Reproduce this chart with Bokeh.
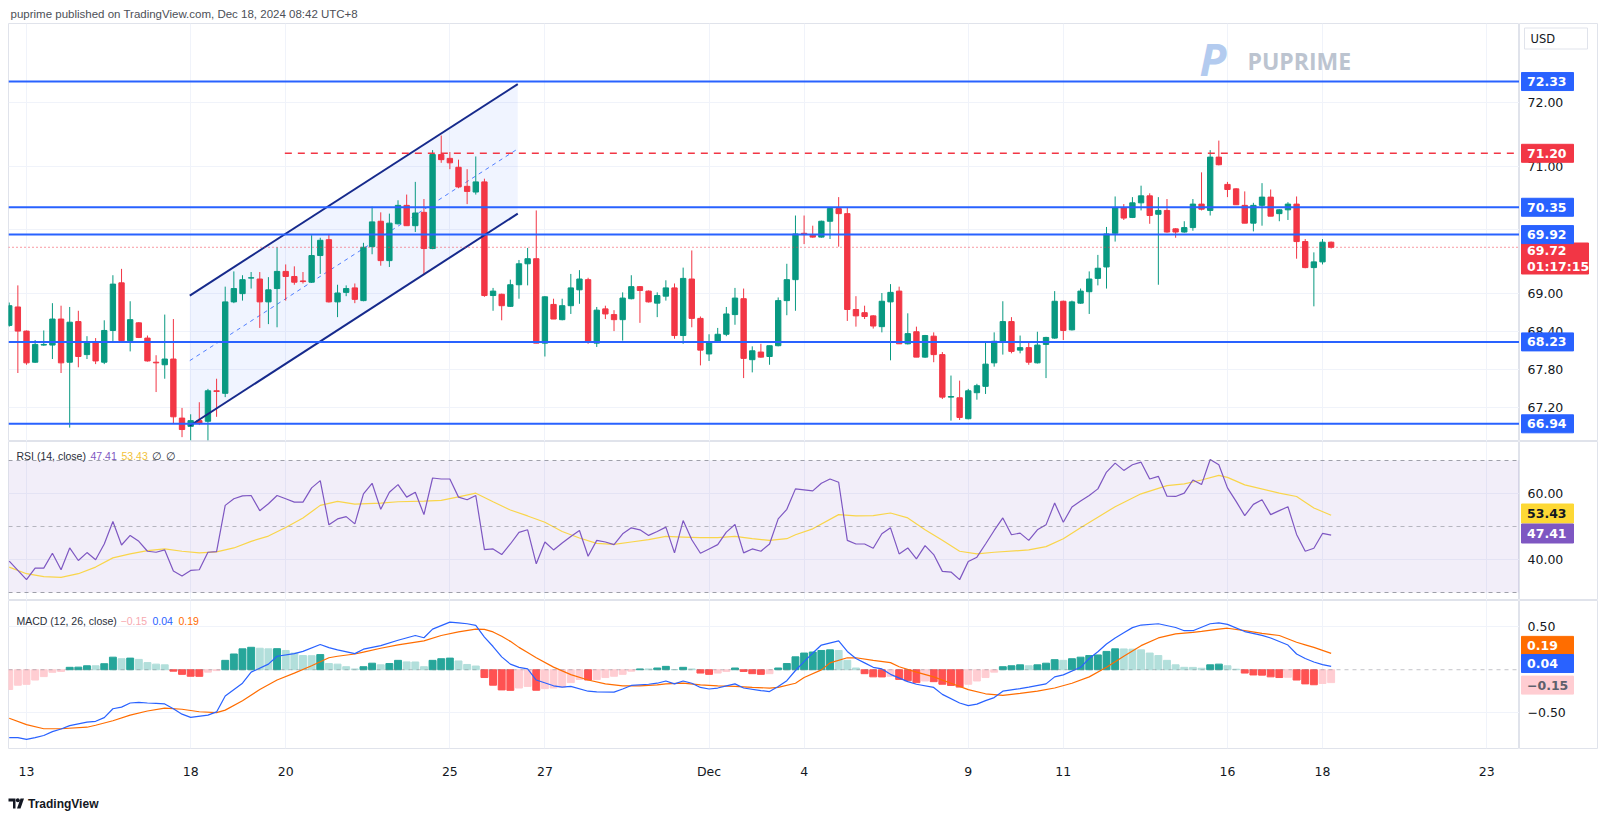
import numpy as np
from bokeh.plotting import figure
from bokeh.layouts import column, row
from bokeh.models import (Range1d, FixedTicker, Span, BoxAnnotation,
                          ColumnDataSource, LinearAxis)
from bokeh.core.properties import value
from bokeh.embed import file_html
from bokeh.resources import INLINE

# ---------------- data (4h candles, USOIL) ----------------
opens = [68.49,68.78,68.40,67.91,68.18,68.18,68.59,67.91,68.55,68.03,
68.23,67.91,68.41,69.16,68.25,68.53,68.29,67.91,67.87,67.96,
67.03,66.90,66.99,66.98,67.46,67.42,68.86,68.99,69.235,69.22,
68.86,69.07,69.34,69.26,69.19,69.17,69.59,69.84,68.86,69.01,
69.08,68.88,69.73,70.13,69.51,70.09,70.38,70.06,70.27,69.70,
71.18,71.12,70.98,70.68,70.59,70.75,68.96,68.98,68.79,69.13,
69.46,69.54,68.21,68.82,68.58,68.80,69.05,69.21,68.21,68.75,
68.66,68.58,68.91,69.10,69.03,68.84,68.95,69.08,68.33,69.22,
68.60,68.04,68.24,68.35,68.66,68.91,67.95,68.07,68.00,68.17,
68.88,69.21,69.94,69.91,69.88,70.13,70.33,70.25,68.74,68.69,
68.64,68.47,68.86,69.03,68.20,68.39,67.99,68.32,68.03,67.36,
67.35,67.02,67.43,67.53,67.90,68.24,68.55,68.10,68.14,67.90,
68.19,68.29,68.87,68.42,68.84,69.02,69.23,69.41,69.94,70.34,
70.19,70.42,70.53,70.24,70.30,70.01,69.96,70.03,70.40,70.30,
71.14,70.71,70.64,70.38,70.10,70.38,70.51,70.25,70.31,70.40,
69.81,69.40,69.49,69.80]
highs = [68.85,69.12,68.41,68.26,68.41,68.84,68.80,68.78,68.72,68.32,
68.29,68.57,69.28,69.38,68.87,68.54,68.33,68.02,68.66,68.59,
67.19,67.09,67.28,67.49,67.65,69.10,69.34,69.28,69.33,69.33,
69.25,69.72,69.45,69.42,69.33,69.91,69.87,69.93,69.13,69.12,
69.15,69.79,70.36,70.27,70.25,70.46,70.55,70.75,70.48,71.25,
71.48,71.22,71.10,70.95,71.15,70.80,69.08,68.99,69.21,69.52,
69.71,70.30,68.95,68.91,68.91,69.30,69.36,69.24,68.78,68.80,
68.73,69.01,69.28,69.11,69.04,69.01,69.20,69.15,69.40,69.67,
68.63,68.35,68.45,68.78,69.08,69.07,68.16,68.20,68.17,68.93,
69.46,70.22,70.22,70.06,70.14,70.34,70.51,70.35,68.95,68.80,
68.65,69.00,69.14,69.10,68.68,68.47,68.34,68.38,68.07,67.70,
67.62,67.49,67.57,68.23,68.38,68.87,68.62,68.33,68.23,68.39,
68.31,69.03,68.88,68.88,69.07,69.34,69.60,70.04,70.52,70.40,
70.51,70.69,70.57,70.51,70.48,70.02,70.13,70.48,70.90,71.25,
71.40,70.75,70.65,70.60,70.42,70.73,70.63,70.32,70.43,70.52,
69.85,69.64,69.85,69.81]
lows = [68.47,67.74,67.87,67.90,68.17,67.96,67.74,66.88,67.83,67.96,
67.88,67.88,68.23,68.23,68.08,68.29,67.92,67.44,67.65,66.94,
66.73,66.68,66.92,66.68,67.05,67.36,68.84,68.88,69.07,68.45,
68.51,68.46,68.88,69.13,69.15,69.16,69.30,68.85,68.62,68.95,
68.84,68.87,69.61,69.43,69.41,70.08,70.06,69.96,69.29,69.69,
71.05,70.95,70.65,70.40,70.55,68.94,68.72,68.57,68.78,68.91,
69.12,68.21,68.00,68.59,68.57,68.67,68.83,68.20,68.15,68.59,
68.40,68.25,68.90,68.53,68.85,68.62,68.88,68.28,68.20,68.46,
67.86,67.93,68.23,68.32,68.50,67.66,67.75,67.98,67.87,68.16,
68.65,68.72,69.77,69.87,69.87,69.85,69.73,68.56,68.47,68.59,
68.44,68.38,67.94,68.20,68.19,67.99,67.98,67.91,67.33,66.99,
67.00,67.01,67.32,67.41,67.84,68.03,68.05,68.05,67.87,67.89,
67.66,68.28,68.26,68.41,68.83,68.67,69.12,69.07,69.81,70.15,
70.18,70.30,70.09,69.13,69.95,69.87,69.95,69.98,70.30,70.22,
71.01,70.51,70.39,70.10,69.97,70.06,70.21,70.13,70.15,69.54,
69.39,68.79,69.45,69.70]
closes = [68.80,68.40,67.90,68.19,68.19,68.59,67.90,68.54,68.00,68.23,
67.93,68.41,69.14,68.25,68.58,68.30,67.93,67.90,67.96,67.05,
66.85,66.99,66.95,67.46,67.45,68.86,69.07,69.21,69.24,68.86,
69.05,69.34,69.26,69.17,69.18,69.59,69.83,68.86,69.00,69.07,
68.90,69.72,70.12,69.51,70.10,70.38,70.06,70.26,69.70,71.18,
71.10,71.05,70.67,70.60,70.75,68.96,69.03,68.80,69.13,69.46,
69.54,68.21,68.94,68.59,68.80,69.08,69.22,68.24,68.73,68.67,
68.58,68.92,69.10,69.04,68.86,68.96,69.08,68.33,69.23,68.60,
68.10,68.23,68.35,68.67,68.92,67.97,68.09,67.99,68.17,68.88,
69.21,69.93,69.92,69.88,70.13,70.33,70.25,68.74,68.64,68.63,
68.48,68.87,69.01,68.20,68.36,67.99,68.33,68.03,67.36,67.37,
67.04,67.46,67.54,67.88,68.24,68.55,68.08,68.14,67.91,68.18,
68.30,68.87,68.41,68.86,69.03,69.22,69.39,69.93,70.34,70.18,
70.42,70.53,70.22,70.30,69.96,69.96,70.03,70.40,70.32,71.14,
71.02,70.63,70.39,70.10,70.38,70.51,70.21,70.31,70.40,69.81,
69.40,69.49,69.80,69.72]

rsi = [39.5,36.7,33.9,37.4,37.4,41.9,36.9,43.5,39.7,42.1,
39.9,44.7,51.5,44.4,47.3,45.5,42.5,42.2,42.9,36.5,
35.0,36.7,36.9,42.2,42.4,56.4,58.4,59.3,59.4,54.8,
56.9,59.4,58.4,57.4,57.4,61.7,63.9,50.5,52.3,53.0,
50.8,59.9,63.1,55.2,60.4,62.7,58.9,60.4,53.6,64.7,
64.4,64.4,58.9,58.1,59.4,43.0,43.2,41.5,44.7,48.2,
49.0,38.7,45.3,42.9,45.0,47.0,48.8,41.0,45.8,45.3,
44.5,47.8,49.6,49.0,47.3,48.5,49.8,42.0,51.8,46.0,
41.9,43.2,44.5,48.3,50.6,42.0,43.2,42.5,44.7,52.3,
55.2,61.4,61.1,60.8,63.1,64.4,63.4,45.8,44.7,44.7,
43.4,47.8,49.6,41.7,43.5,40.2,44.2,41.5,36.4,36.2,
33.9,39.4,40.7,44.7,48.8,52.6,47.5,48.0,45.8,49.0,
50.5,57.1,51.3,55.9,57.7,59.4,61.4,66.5,69.2,67.0,
68.7,69.5,64.4,65.2,59.2,59.1,60.1,64.1,62.7,70.3,
68.7,61.7,57.6,53.3,56.7,58.1,53.6,54.8,56.0,47.6,
42.5,43.4,47.9,47.41]

rsi_ma_idx = [0,2,4,6,8,10,12,14,16,18,20,22,24,26,28,30,32,34,36,38,
40,43,45,48,50,52,54,56,58,60,62,64,66,68,70,72,74,76,78,80,
82,84,86,88,90,91,93,96,98,100,102,104,106,108,110,112,114,118,120,122,
124,126,128,131,134,136,138,140,141,143,147,149,151,153]
rsi_ma_val = [37.7,35.7,34.8,34.6,35.7,37.7,40.5,41.7,42.7,43.2,42.5,42.0,42.3,43.5,45.5,47.1,49.7,52.6,56.4,57.6,
56.8,57.1,57.5,57.7,57.9,59.0,60.1,57.5,55.0,53.2,51.3,48.5,46.5,44.9,44.6,45.3,46.0,47.0,46.8,46.6,
46.6,47.0,46.3,45.8,46.3,47.5,49.3,53.6,53.2,53.3,54.1,52.6,49.0,45.8,42.5,41.7,42.2,42.9,43.9,46.3,
49.6,52.8,56.0,59.9,62.4,62.9,64.1,65.5,64.9,62.6,60.1,59.1,55.6,53.43]

macd_idx = [0,1,2,3,4,5,6,7,9,10,11,12,13,14,15,16,17,18,19,20,
21,23,24,25,27,28,30,31,33,34,36,37,38,40,41,43,45,47,48,49,
51,52,53,54,55,56,57,58,59,60,61,63,64,65,67,68,70,71,72,74,
75,76,77,78,79,80,81,82,83,84,85,87,88,89,90,91,92,93,94,96,
97,98,99,100,101,102,104,105,107,108,110,111,112,113,114,115,117,118,120,121,
122,124,125,126,127,128,129,130,131,133,135,136,137,139,140,141,143,145,146,148,
149,150,151,152,153]
macd_val = [-0.79,-0.79,-0.81,-0.79,-0.765,-0.72,-0.69,-0.65,-0.61,-0.60,
-0.557,-0.454,-0.435,-0.387,-0.38,-0.387,-0.391,-0.398,-0.454,-0.517,
-0.554,-0.528,-0.491,-0.306,-0.157,-0.028,0.065,0.157,0.187,0.213,
0.294,0.257,0.231,0.187,0.239,0.28,0.343,0.398,0.372,0.472,
0.554,0.545,0.535,0.517,0.38,0.27,0.15,0.065,0.028,0.009,
-0.12,-0.187,-0.202,-0.194,-0.25,-0.257,-0.261,-0.224,-0.183,-0.169,
-0.157,-0.131,-0.165,-0.131,-0.157,-0.206,-0.224,-0.213,-0.187,-0.165,
-0.213,-0.243,-0.254,-0.194,-0.128,-0.009,0.094,0.194,0.287,0.335,
0.213,0.13,0.08,0.028,0.009,-0.054,-0.139,-0.169,-0.206,-0.287,
-0.387,-0.417,-0.40,-0.36,-0.324,-0.25,-0.22,-0.202,-0.165,-0.083,
-0.06,0.028,0.131,0.21,0.30,0.37,0.43,0.49,0.52,0.535,
0.491,0.454,0.454,0.535,0.546,0.528,0.444,0.40,0.369,0.287,
0.183,0.13,0.09,0.06,0.04]

signal_idx = [0,2,4,6,9,10,12,14,16,18,20,22,24,25,27,29,31,33,35,37,
38,40,41,43,45,48,50,52,54,55,56,57,58,59,60,61,63,65,67,69,
71,73,75,76,78,80,82,84,86,88,89,91,92,94,95,97,98,100,102,103,
105,107,109,111,113,115,117,119,121,123,125,127,129,131,133,135,137,138,140,141,
143,145,147,149,150,151,152,153]
signal_val = [-0.565,-0.639,-0.687,-0.687,-0.669,-0.646,-0.594,-0.528,-0.48,-0.446,
-0.46,-0.489,-0.50,-0.47,-0.361,-0.231,-0.12,-0.039,0.046,0.139,
0.157,0.183,0.205,0.25,0.29,0.335,0.398,0.44,0.472,0.47,
0.44,0.39,0.33,0.26,0.2,0.14,0.03,-0.057,-0.12,-0.165,
-0.187,-0.187,-0.176,-0.165,-0.157,-0.176,-0.187,-0.194,-0.206,-0.213,
-0.206,-0.157,-0.091,-0.002,0.08,0.139,0.139,0.109,0.083,0.035,
-0.028,-0.083,-0.157,-0.231,-0.28,-0.298,-0.276,-0.25,-0.213,-0.157,
-0.083,0.028,0.157,0.28,0.37,0.417,0.435,0.446,0.472,0.483,
0.454,0.424,0.398,0.32,0.29,0.26,0.225,0.19]

hist = [-0.23,-0.18,-0.17,-0.12,-0.08,-0.03,-0.02,0.028,0.03,0.046,
0.046,0.07,0.146,0.128,0.135,0.12,0.083,0.065,0.057,-0.017,
-0.054,-0.076,-0.077,-0.028,-0.01,0.109,0.183,0.243,0.261,0.25,
0.243,0.245,0.224,0.194,0.165,0.163,0.176,0.072,0.065,0.035,
0.009,0.035,0.076,0.057,0.072,0.109,0.091,0.09,0.035,0.109,
0.128,0.135,0.102,0.061,0.043,-0.091,-0.18,-0.235,-0.24,-0.213,
-0.194,-0.239,-0.22,-0.213,-0.202,-0.15,-0.113,-0.12,-0.115,-0.091,
-0.076,-0.054,-0.017,0.009,0.009,0.02,0.039,0.002,0.028,0.009,
-0.039,-0.054,-0.039,-0.02,0.02,-0.02,-0.046,-0.054,-0.046,0.02,
0.072,0.15,0.194,0.206,0.224,0.231,0.224,0.109,0.02,-0.046,
-0.083,-0.084,-0.076,-0.113,-0.128,-0.15,-0.131,-0.139,-0.169,-0.183,
-0.202,-0.169,-0.131,-0.091,-0.028,0.035,0.046,0.057,0.046,0.057,
0.076,0.117,0.109,0.128,0.146,0.165,0.172,0.213,0.243,0.242,
0.239,0.231,0.194,0.165,0.109,0.057,0.028,0.027,0.017,0.057,
0.065,0.046,0.006,-0.039,-0.061,-0.063,-0.083,-0.091,-0.088,-0.12,
-0.165,-0.175,-0.16,-0.15]

tick_idx = [2, 21, 32, 51, 62, 81, 92, 111, 122, 141, 152, 171]
tick_labels = ["13", "18", "20", "25", "27", "Dec", "4", "9", "11", "16", "18", "23"]

levels = [72.33, 70.35, 69.92, 68.23, 66.94]
resistance = 71.20
resistance_start = 31.9
last_price = 69.72
countdown = "01:17:15"
channel_x = [20.9, 58.86]
channel_lower = [66.91, 70.25]
channel_upper = [68.96, 72.29]

price_ticks = [67.2, 67.8, 68.4, 69.0, 71.0, 72.0]
price_grid = [67.2, 67.8, 68.4, 69.0, 70.0, 71.0, 72.0]
rsi_ticks = [40, 60]
macd_ticks = [-0.5, 0.5]
rsi_last, rsi_ma_last = 47.41, 53.43
macd_last, signal_last, hist_last = 0.04, 0.19, -0.15

# ---------------- layout constants ----------------
LM = 8                 # left margin inside the main figures
FRAME_W = 1511
MW = LM + FRAME_W      # main figure width (1519)
SW = 79                # price-scale column width
TW = MW + SW
X0, X1 = -0.083, 174.8
FONT = "DejaVu Sans"
LFONT = "Liberation Sans"
GREEN, RED, BLUE = "#089981", "#F23645", "#2962FF"
GRID = "#f0f3fa"
BORDER = "#e0e3eb"
TXT = "#131722"

def ix(px):          # page pixel -> candle index (annotation placement)
    return 2 + (px - 26) / 8.64

def yp(py):          # page pixel -> price
    return 72 - (py - 102) / 63.5

def yr_(py):         # page pixel -> RSI
    return 70 - (py - 460) / 3.3

def ym(py):          # page pixel -> MACD
    return (672.5 - py) / 90.0

xr = Range1d(X0, X1)

def pane(height, y0, y1, bottom=0):
    p = figure(width=MW, height=height, x_range=xr, y_range=Range1d(y0, y1),
               output_backend="svg", toolbar_location=None,
               x_axis_location=None, y_axis_location=None,
               min_border_left=LM, min_border_right=0,
               min_border_top=0, min_border_bottom=bottom)
    p.outline_line_color = BORDER
    p.border_fill_color = "white"
    p.background_fill_color = "white"
    for g in p.xgrid:
        g.ticker = FixedTicker(ticks=tick_idx)
        g.grid_line_color = GRID
    for g in p.ygrid:
        g.grid_line_color = GRID
    return p

def side(p, height, bottom=0):
    s = figure(width=SW, height=height, x_range=Range1d(0, SW), y_range=p.y_range,
               output_backend="svg", toolbar_location=None,
               x_axis_location=None, y_axis_location=None,
               min_border_left=0, min_border_right=0,
               min_border_top=0, min_border_bottom=bottom)
    s.outline_line_color = BORDER
    s.grid.visible = False
    s.border_fill_color = "white"
    return s

def scale_labels(s, ticks, labels):
    s.text(x=[8] * len(ticks), y=ticks, text=labels, text_font=value(FONT),
           text_font_size="12.5px", text_color=TXT, text_baseline="middle")

def box(s, y, text, bg, fg="white", w=52, h=18):
    s.rect(x=[2 + w / 2], y=[y], width=w, height=h, width_units="screen",
           height_units="screen", fill_color=bg, line_color=bg)
    s.text(x=[7.5], y=[y], text=[text], text_font=value(FONT), text_font_size="12.5px",
           text_font_style="bold", text_color=fg, text_baseline="middle")

# ---------------- header ----------------
hdr = figure(width=TW, height=23, x_range=Range1d(0, TW), y_range=Range1d(0, 23),
             output_backend="svg", toolbar_location=None,
             x_axis_location=None, y_axis_location=None, min_border=0)
hdr.outline_line_color = None
hdr.grid.visible = False
hdr.text(x=[10], y=[9.5], text=["puprime published on TradingView.com, Dec 18, 2024 08:42 UTC+8"],
         text_font=value(LFONT), text_font_size="11.5px", text_color="#4c4f57",
         text_baseline="middle")

# ---------------- price pane ----------------
p1 = pane(418, yp(441), yp(23))
p1.ygrid[0].ticker = FixedTicker(ticks=price_grid)

p1.patch(x=[channel_x[0], channel_x[1], channel_x[1], channel_x[0]],
         y=[channel_lower[0], channel_lower[1], channel_upper[1], channel_upper[0]],
         fill_color=BLUE, fill_alpha=0.07, line_color=None)
mid = [(a + b) / 2 for a, b in zip(channel_lower, channel_upper)]
p1.line(channel_x, mid, line_color=BLUE, line_dash="4 4", line_width=1, line_alpha=0.8)

p1.text(x=[ix(1199)], y=[yp(58)], text=["P"], text_font=value("Open Sans"),
        text_font_style="bold italic", text_font_size="44px", text_color="#b3cbef",
        text_baseline="middle")
p1.text(x=[ix(1247)], y=[yp(60)], text=["PUPRIME"], text_font=value("Open Sans"),
        text_font_style="bold", text_font_size="23px", text_color="#bcc4d0",
        text_baseline="middle")

n = len(closes)
idx = list(range(n))
cols = [GREEN if c >= o else RED for o, c in zip(opens, closes)]
src = ColumnDataSource(dict(x=idx, h=highs, l=lows,
                            top=[max(o, c) for o, c in zip(opens, closes)],
                            bot=[min(o, c) for o, c in zip(opens, closes)],
                            col=cols))
p1.segment(x0="x", y0="l", x1="x", y1="h", source=src, line_color="col", line_width=1)
p1.vbar(x="x", top="top", bottom="bot", width=0.62, source=src,
        fill_color="col", line_color="col", line_width=1)

p1.line(channel_x, channel_lower, line_color="#162a8c", line_width=2)
p1.line(channel_x, channel_upper, line_color="#162a8c", line_width=2)

for lv in levels:
    p1.add_layout(Span(location=lv, dimension="width", line_color=BLUE, line_width=2))
p1.segment(x0=[resistance_start], y0=[resistance], x1=[X1], y1=[resistance],
           line_color=RED, line_width=1.5, line_dash="7 6")
p1.add_layout(Span(location=last_price, dimension="width", line_color=RED,
                   line_width=1, line_dash="1 3"))

s1 = side(p1, 418)
scale_labels(s1, price_ticks, ["%.2f" % t for t in price_ticks])
# USD box
s1.rect(x=[36.5], y=[yp(38)], width=63, height=21, width_units="screen", height_units="screen",
        fill_color="white", line_color=BORDER)
s1.text(x=[11], y=[yp(38)], text=["USD"], text_font=value(FONT), text_font_size="11.5px",
        text_color=TXT, text_baseline="middle")
box(s1, levels[0], "%.2f" % levels[0], BLUE)
box(s1, resistance, "%.2f" % resistance, RED)
box(s1, levels[1], "%.2f" % levels[1], BLUE)
# last price + countdown (sits just under the 69.92 label)
s1.rect(x=[2 + 33.5], y=[yp(258)], width=67, height=31, width_units="screen",
        height_units="screen", fill_color=RED, line_color=RED)
s1.text(x=[7.5, 7.5], y=[yp(250), yp(266)], text=["%.2f" % last_price, countdown],
        text_font=value(FONT), text_font_size="12.5px", text_font_style="bold",
        text_color="white", text_baseline="middle")
box(s1, levels[2], "%.2f" % levels[2], BLUE)
box(s1, levels[3], "%.2f" % levels[3], BLUE)
box(s1, levels[4], "%.2f" % levels[4], BLUE)

# ---------------- RSI pane ----------------
p2 = pane(159, yr_(600), yr_(441))
p2.ygrid[0].ticker = FixedTicker(ticks=rsi_ticks)
p2.add_layout(BoxAnnotation(bottom=30, top=70, fill_color="#7E57C2", fill_alpha=0.1,
                            line_color=None, level="underlay"))
for lv, a in [(70, 0.7), (50, 0.5), (30, 0.7)]:
    p2.add_layout(Span(location=lv, dimension="width", line_color="#787B86",
                       line_alpha=a, line_dash="4 4", line_width=1))
p2.line(rsi_ma_idx, rsi_ma_val, line_color="#F9D54A", line_width=1.2)
p2.line(idx, rsi, line_color="#7E57C2", line_width=1.2)
ly = yr_(455)
lfs = "10.5px"
p2.text(x=[ix(16)], y=[ly], text=["RSI (14, close)"], text_font=value(LFONT),
        text_font_size=lfs, text_color="#2a2e39", text_baseline="middle")
p2.text(x=[ix(90)], y=[ly], text=["%.2f" % rsi_last], text_font=value(LFONT),
        text_font_size=lfs, text_color="#7E57C2", text_baseline="middle")
p2.text(x=[ix(121)], y=[ly], text=["%.2f" % rsi_ma_last], text_font=value(LFONT),
        text_font_size=lfs, text_color="#F2C23A", text_baseline="middle")
p2.text(x=[ix(152), ix(166)], y=[ly, ly], text=["\u2205", "\u2205"], text_font=value(LFONT),
        text_font_size=lfs, text_color="#2a2e39", text_baseline="middle")

s2 = side(p2, 159)
scale_labels(s2, rsi_ticks, ["%.2f" % t for t in rsi_ticks])
box(s2, yr_(513), "%.2f" % rsi_ma_last, "#FDD835", fg=TXT, h=19)
box(s2, yr_(533), "%.2f" % rsi_last, "#7E57C2", h=19)

# ---------------- MACD pane ----------------
p3 = pane(181, ym(755), ym(600), bottom=26)
p3.ygrid[0].ticker = FixedTicker(ticks=macd_ticks)
p3.add_layout(Span(location=0, dimension="width", line_color="#787B86",
                   line_alpha=0.45, line_dash="4 4", line_width=1))
hcols = []
for k, h in enumerate(hist):
    prev = hist[k - 1] if k > 0 else h
    if h >= 0:
        hcols.append("#26A69A" if h > prev else "#B2DFDB")
    else:
        hcols.append("#FF5252" if h < prev else "#FFCDD2")
p3.vbar(x=idx, top=hist, bottom=0, width=0.8, fill_color=hcols, line_color=hcols)
p3.line(signal_idx, signal_val, line_color="#FF6D00", line_width=1.2)
p3.line(macd_idx, macd_val, line_color=BLUE, line_width=1.2)
my = ym(621)
p3.text(x=[ix(16)], y=[my], text=["MACD (12, 26, close)"], text_font=value(LFONT),
        text_font_size=lfs, text_color="#2a2e39", text_baseline="middle")
p3.text(x=[ix(120)], y=[my], text=["\u22120.15"], text_font=value(LFONT),
        text_font_size=lfs, text_color="#F7A9B0", text_baseline="middle")
p3.text(x=[ix(152)], y=[my], text=["%.2f" % macd_last], text_font=value(LFONT),
        text_font_size=lfs, text_color=BLUE, text_baseline="middle")
p3.text(x=[ix(178)], y=[my], text=["%.2f" % signal_last], text_font=value(LFONT),
        text_font_size=lfs, text_color="#FF6D00", text_baseline="middle")

xa = LinearAxis(ticker=FixedTicker(ticks=tick_idx),
                major_label_overrides={t: l for t, l in zip(tick_idx, tick_labels)})
xa.axis_line_color = None
xa.major_tick_line_color = None
xa.minor_tick_line_color = None
xa.major_label_standoff = 9
xa.major_label_text_font = FONT
xa.major_label_text_font_size = "12.5px"
xa.major_label_text_color = TXT
p3.add_layout(xa, "below")

s3 = side(p3, 181, bottom=26)
scale_labels(s3, macd_ticks, ["\u22120.50", "0.50"])
box(s3, ym(647), "%.2f" % signal_last, "#FF6D00")
box(s3, ym(666), "%.2f" % macd_last, BLUE)
box(s3, ym(688.6), "\u22120.15", "#FFCDD2", fg="#5d606b")

# ---------------- footer ----------------
ft = figure(width=TW, height=35, x_range=Range1d(0, TW), y_range=Range1d(0, 35),
            output_backend="svg", toolbar_location=None,
            x_axis_location=None, y_axis_location=None, min_border=0)
ft.outline_line_color = None
ft.grid.visible = False
ft.patch(x=[8, 15, 15, 12.5, 12.5, 8], y=[18, 18, 8, 8, 15, 15], fill_color="#131722", line_color=None)
ft.scatter(x=[17.3], y=[16.2], size=4, marker="circle", fill_color="#131722", line_color=None)
ft.patch(x=[16.5, 20, 23.5, 20], y=[8, 8, 18, 18], fill_color="#131722", line_color=None)
ft.text(x=[27.5], y=[13], text=["TradingView"], text_font=value(LFONT),
        text_font_size="12px", text_font_style="bold", text_color="#131722",
        text_baseline="middle")

layout = column(hdr, row(p1, s1, spacing=0), row(p2, s2, spacing=0),
                row(p3, s3, spacing=0), ft, spacing=0)
open("out.html", "w").write(file_html(layout, INLINE))
